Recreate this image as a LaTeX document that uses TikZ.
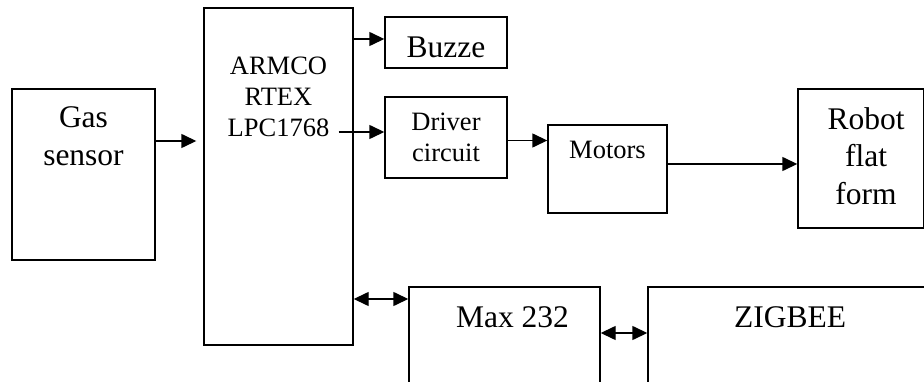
\documentclass[tikz,border=0pt]{standalone}
\usepackage{fontspec}
\setmainfont{Liberation Serif}
\usetikzlibrary{arrows.meta}

\begin{document}
\begin{tikzpicture}
 [x=1pt, y=-1pt,
  block/.style={draw, line width=1.4pt, inner sep=0pt},
  big/.style={anchor=north, inner sep=0pt, align=center, font=\fontsize{31.5}{37.5}\selectfont},
  small/.style={anchor=north, inner sep=0pt, align=center, font=\fontsize{26.5}{31}\selectfont},
  arr/.style={line width=1.4pt, -{Triangle[length=15pt,width=14pt]}},
  biarr/.style={line width=1.4pt, {Triangle[length=15pt,width=14pt]}-{Triangle[length=15pt,width=14pt]}}]

\clip (0,0) rectangle (924,382);

\node[block, minimum width=143pt, minimum height=171pt] (gas) at (83.5,174.5)
  [label={[big, yshift=-18.5pt]north:{Gas\\sensor}}] {};
\node[block, minimum width=149pt, minimum height=337pt] (arm) at (278.5,176.5)
  [label={[small, yshift=-49pt]north:{ARMCO\\RTEX\\LPC1768}}] {};
\node[block, minimum width=122pt, minimum height=51pt] (buz) at (446,42.5)
  [label={[big, yshift=-20pt]north:{Buzze}}] {};
\node[block, minimum width=122pt, minimum height=81pt] (drv) at (446,137.5)
  [label={[small, yshift=-16.5pt]north:{Driver\\circuit}}] {};
\node[block, minimum width=119pt, minimum height=88pt] (mot) at (607.5,169)
  [label={[small, yshift=-17pt]north:{Motors}}] {};
\node[block, minimum width=126pt, minimum height=139pt] (rob) at (861,158.5)
  [label={[big, yshift=-19pt, xshift=5pt]north:{Robot\\flat\\form}}] {};
\node[block, minimum width=191pt, minimum height=116pt] (max) at (504.5,345)
  [label={[big, yshift=-20pt, xshift=8pt]north:{Max 232}}] {};
\node[block, minimum width=284pt, minimum height=116pt] (zig) at (790,345)
  [label={[big, yshift=-20pt]north:{ZIGBEE}}] {};

% connection points
\coordinate (g1) at ([yshift=33.5pt]gas.east);
\coordinate (b1) at ([yshift=3.5pt]buz.west);
\coordinate (d1) at ([yshift=5.5pt]drv.west);
\coordinate (d2) at ([yshift=-3pt]drv.east);
\coordinate (m1) at ([yshift=5pt]mot.east);
\coordinate (x1) at ([yshift=46pt]max.west);
\coordinate (x2) at ([yshift=12pt]max.east);

\path
  (g1) edge [arr, shorten >=7pt] (g1 -| arm.west)
  (b1 -| arm.east) edge [arr] (b1)
  ([xshift=-15pt]d1 -| arm.east) edge [arr] (d1)
  (d2) edge [arr] (d2 -| mot.west)
  (m1) edge [arr] (m1 -| rob.west)
  (x1 -| arm.east) edge [biarr] (x1)
  (x2) edge [biarr] (x2 -| zig.west);

\end{tikzpicture}
\end{document}
